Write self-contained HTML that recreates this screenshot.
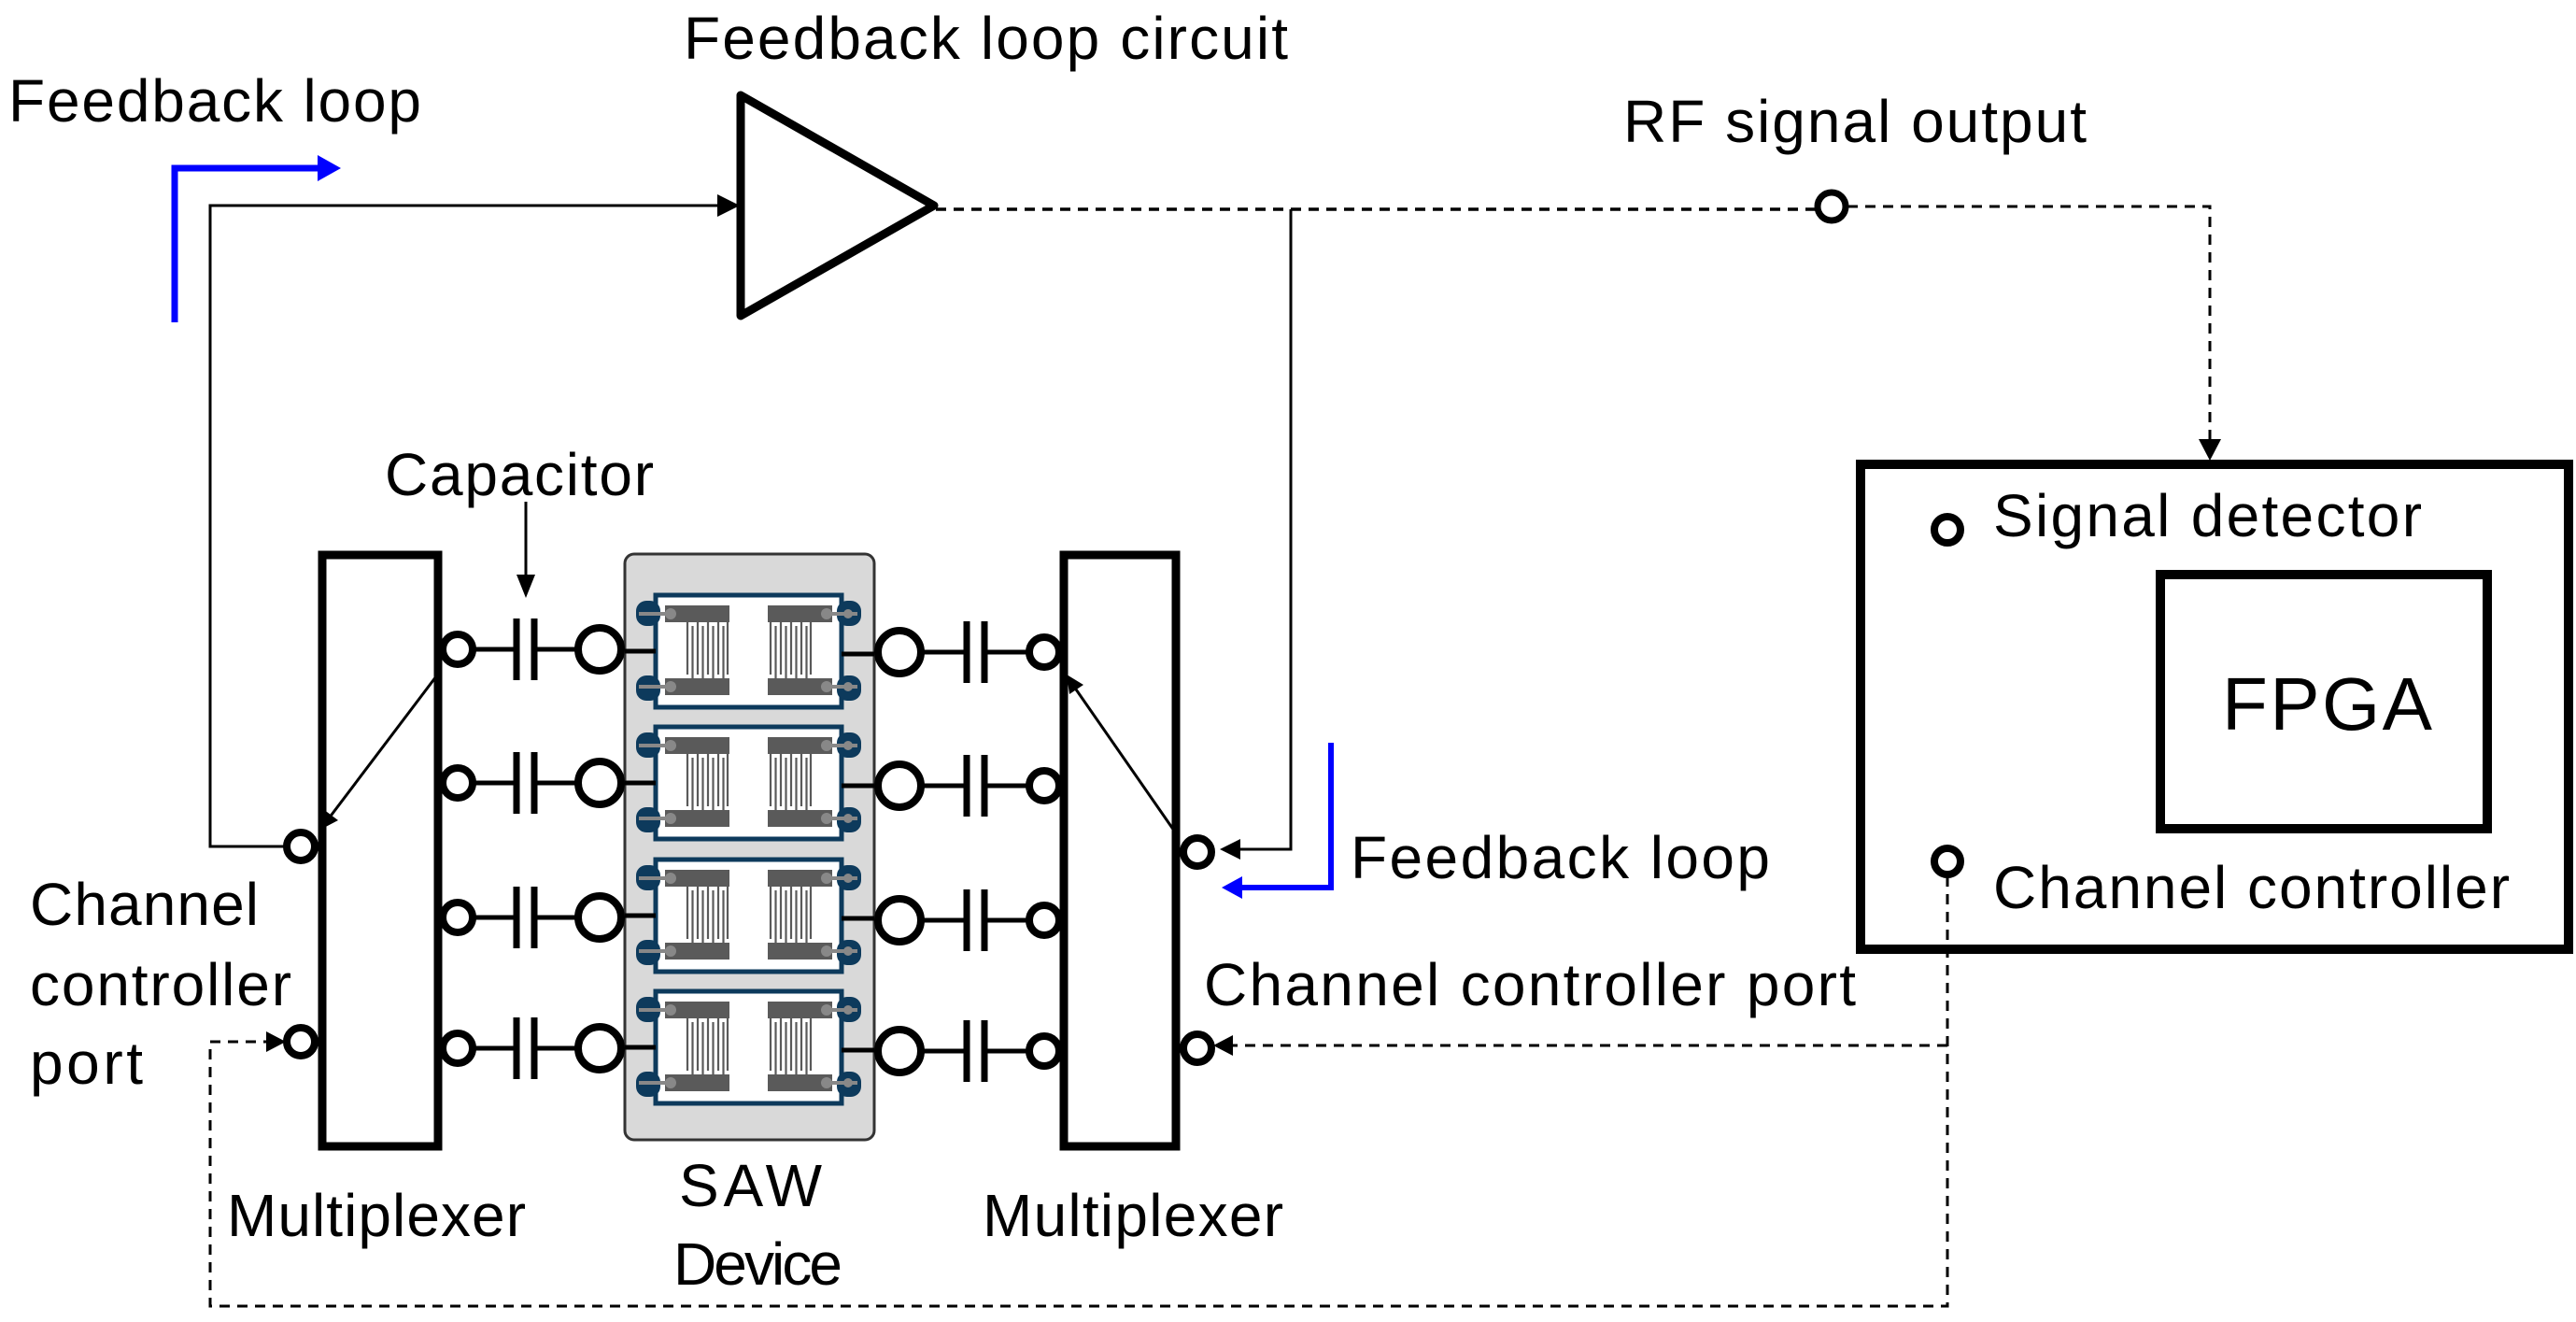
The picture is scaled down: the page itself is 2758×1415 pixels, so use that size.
<!DOCTYPE html>
<html><head><meta charset="utf-8"><style>
html,body{margin:0;padding:0;background:#fff;}
svg{display:block;}
text{font-family:"Liberation Sans",sans-serif;fill:#000;}
</style></head><body>
<svg width="2758" height="1415" viewBox="0 0 2758 1415" xmlns="http://www.w3.org/2000/svg">
<defs>
<g id="dev">
  <rect x="702" y="-60" width="199" height="120" fill="#fff" stroke="#0d3a5c" stroke-width="5"/>
  <rect x="681" y="-54" width="26" height="27" rx="11" fill="#0d3a5c"/>
  <rect x="681" y="26" width="26" height="27" rx="11" fill="#0d3a5c"/>
  <rect x="896" y="-54" width="26" height="27" rx="11" fill="#0d3a5c"/>
  <rect x="896" y="26" width="26" height="27" rx="11" fill="#0d3a5c"/>
  <rect x="712" y="-49" width="69" height="18" fill="#5a5a5a"/>
  <rect x="712" y="29" width="69" height="18" fill="#5a5a5a"/>
  <rect x="822" y="-49" width="69" height="18" fill="#5a5a5a"/>
  <rect x="822" y="29" width="69" height="18" fill="#5a5a5a"/>
  <g stroke="#888" stroke-width="4">
    <line x1="684" y1="-40" x2="718" y2="-40"/><line x1="684" y1="38" x2="718" y2="38"/>
    <line x1="885" y1="-40" x2="918" y2="-40"/><line x1="885" y1="38" x2="918" y2="38"/>
  </g>
  <g fill="#888">
    <circle cx="718" cy="-40" r="6"/><circle cx="718" cy="38" r="6"/>
    <circle cx="885" cy="-40" r="6"/><circle cx="885" cy="38" r="6"/>
    <circle cx="908" cy="-40" r="5"/><circle cx="908" cy="38" r="5"/>
  </g>
  <g stroke="#5a5a5a" stroke-width="2.2">
    <line x1="736" y1="-31" x2="736" y2="25"/><line x1="741.5" y1="-27" x2="741.5" y2="29"/>
    <line x1="747" y1="-31" x2="747" y2="25"/><line x1="752.5" y1="-27" x2="752.5" y2="29"/>
    <line x1="758" y1="-31" x2="758" y2="25"/><line x1="763.5" y1="-27" x2="763.5" y2="29"/>
    <line x1="769" y1="-31" x2="769" y2="25"/><line x1="774.5" y1="-27" x2="774.5" y2="29"/>
    <line x1="779" y1="-31" x2="779" y2="25"/>
    <line x1="825" y1="-31" x2="825" y2="25"/><line x1="830.5" y1="-27" x2="830.5" y2="29"/>
    <line x1="836" y1="-31" x2="836" y2="25"/><line x1="841.5" y1="-27" x2="841.5" y2="29"/>
    <line x1="847" y1="-31" x2="847" y2="25"/><line x1="852.5" y1="-27" x2="852.5" y2="29"/>
    <line x1="858" y1="-31" x2="858" y2="25"/><line x1="863.5" y1="-27" x2="863.5" y2="29"/>
    <line x1="868" y1="-31" x2="868" y2="25"/>
  </g>
  <line x1="669" y1="0" x2="702" y2="0" stroke="#000" stroke-width="5"/>
  <line x1="901" y1="3" x2="936" y2="3" stroke="#000" stroke-width="5"/>
</g>
<g id="row">
  <line x1="507" y1="0" x2="553" y2="0" stroke="#000" stroke-width="5"/>
  <line x1="572" y1="0" x2="618" y2="0" stroke="#000" stroke-width="5"/>
  <line x1="553" y1="-33" x2="553" y2="33" stroke="#000" stroke-width="7"/>
  <line x1="572" y1="-33" x2="572" y2="33" stroke="#000" stroke-width="7"/>
  <circle cx="490" cy="0" r="16" fill="#fff" stroke="#000" stroke-width="8"/>
  <circle cx="642" cy="0" r="23" fill="#fff" stroke="#000" stroke-width="8"/>
  <line x1="987" y1="3" x2="1035" y2="3" stroke="#000" stroke-width="5"/>
  <line x1="1054" y1="3" x2="1101" y2="3" stroke="#000" stroke-width="5"/>
  <line x1="1035" y1="-30" x2="1035" y2="36" stroke="#000" stroke-width="7"/>
  <line x1="1054" y1="-30" x2="1054" y2="36" stroke="#000" stroke-width="7"/>
  <circle cx="963" cy="3" r="23" fill="#fff" stroke="#000" stroke-width="8"/>
  <circle cx="1118" cy="3" r="16" fill="#fff" stroke="#000" stroke-width="8"/>
</g>
</defs>

<text x="9" y="130" font-size="64" textLength="442">Feedback loop</text>
<text x="732" y="63" font-size="64" textLength="647">Feedback loop circuit</text>
<text x="1738" y="152" font-size="64" textLength="496">RF signal output</text>

<path d="M187 345 V180 H345" fill="none" stroke="#0000ff" stroke-width="7"/>
<polygon points="340,166 365,180 340,194" fill="#0000ff"/>

<path d="M322 906 H225 V220 H775" fill="none" stroke="#000" stroke-width="3"/>
<polygon points="768,208 792,220 768,232" fill="#000"/>

<polygon points="793,102 793,338 1000,220" fill="#fff" stroke="#000" stroke-width="9" stroke-linejoin="round"/>

<path d="M1002 224 H1944" fill="none" stroke="#000" stroke-width="3.5" stroke-dasharray="11 8"/>
<circle cx="1961" cy="221" r="15" fill="#fff" stroke="#000" stroke-width="7"/>
<path d="M1978 221 H2366 V475" fill="none" stroke="#000" stroke-width="3" stroke-dasharray="11 8"/>
<polygon points="2354,470 2378,470 2366,493" fill="#000"/>

<path d="M1382 224 V909 H1322" fill="none" stroke="#000" stroke-width="3"/>
<polygon points="1328,898 1306,909 1328,920" fill="#000"/>

<path d="M1425 795 V950 H1325" fill="none" stroke="#0000ff" stroke-width="6"/>
<polygon points="1330,938 1308,950 1330,962" fill="#0000ff"/>
<text x="1446" y="940" font-size="64" textLength="449">Feedback loop</text>

<text x="412" y="530" font-size="64" textLength="288">Capacitor</text>
<line x1="563" y1="537" x2="563" y2="620" stroke="#000" stroke-width="3"/>
<polygon points="553,615 573,615 563,640" fill="#000"/>

<rect x="669" y="593" width="267" height="627" rx="10" fill="#d9d9d9" stroke="#333" stroke-width="3"/>
<use href="#dev" transform="translate(0,697)"/>
<use href="#dev" transform="translate(0,838)"/>
<use href="#dev" transform="translate(0,980)"/>
<use href="#dev" transform="translate(0,1121)"/>

<rect x="345" y="594" width="124" height="633" fill="#fff" stroke="#000" stroke-width="9"/>
<rect x="1139" y="594" width="120" height="633" fill="#fff" stroke="#000" stroke-width="9"/>

<use href="#row" transform="translate(0,695)"/>
<use href="#row" transform="translate(0,838)"/>
<use href="#row" transform="translate(0,982)"/>
<use href="#row" transform="translate(0,1122)"/>

<line x1="467" y1="724" x2="352" y2="876" stroke="#000" stroke-width="3"/>
<polygon points="343,888 346,866 362,878" fill="#000"/>
<line x1="1257" y1="889" x2="1150" y2="735" stroke="#000" stroke-width="3"/>
<polygon points="1142,722 1160,733 1145,743" fill="#000"/>

<circle cx="322" cy="906" r="15" fill="#fff" stroke="#000" stroke-width="8"/>
<circle cx="322" cy="1115" r="15" fill="#fff" stroke="#000" stroke-width="8"/>
<circle cx="1282" cy="912" r="15" fill="#fff" stroke="#000" stroke-width="8"/>
<circle cx="1282" cy="1122" r="15" fill="#fff" stroke="#000" stroke-width="8"/>

<rect x="1992" y="497" width="758" height="519" fill="none" stroke="#000" stroke-width="10"/>
<rect x="2313" y="615" width="350" height="272" fill="none" stroke="#000" stroke-width="10"/>
<text x="2379" y="781" font-size="80" textLength="225">FPGA</text>
<circle cx="2085" cy="567" r="14" fill="#fff" stroke="#000" stroke-width="8"/>
<circle cx="2085" cy="922" r="14" fill="#fff" stroke="#000" stroke-width="8"/>
<text x="2134" y="574" font-size="64" textLength="459" lengthAdjust="spacing">Signal  detector</text>
<text x="2134" y="972" font-size="64" textLength="553" lengthAdjust="spacing">Channel  controller</text>

<path d="M2085 938 V1398 H225 V1115 H290" fill="none" stroke="#000" stroke-width="3" stroke-dasharray="11 8"/>
<polygon points="285,1104 306,1115 285,1126" fill="#000"/>
<path d="M2085 1119 H1316" fill="none" stroke="#000" stroke-width="3" stroke-dasharray="11 8"/>
<polygon points="1320,1108 1299,1119 1320,1130" fill="#000"/>

<text x="32" y="990" font-size="64" textLength="245">Channel</text>
<text x="32" y="1076" font-size="64" textLength="280">controller</text>
<text x="32" y="1160" font-size="64" textLength="121">port</text>
<text x="1289" y="1076" font-size="64" textLength="698" lengthAdjust="spacing">Channel  controller  port</text>
<text x="243" y="1323" font-size="64" textLength="320">Multiplexer</text>
<text x="1052" y="1323" font-size="64" textLength="322">Multiplexer</text>
<text x="727" y="1291" font-size="64" textLength="153">SAW</text>
<text x="721" y="1375" font-size="64" textLength="181">Device</text>
</svg>
</body></html>
